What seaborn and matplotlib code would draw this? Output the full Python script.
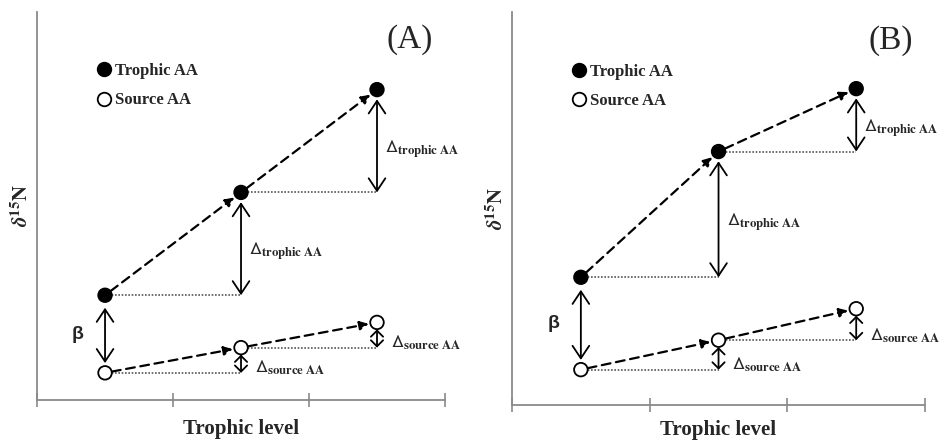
import numpy as np
import pandas as pd
import matplotlib
matplotlib.use("Agg")
import matplotlib.pyplot as plt
import seaborn as sns

# trophic levels (x) and schematic d15N values (y) per panel
levels = [0.5, 1.5, 2.5]
trophic_a = [2.7, 5.35, 8.0]
source_a = [0.7, 1.35, 2.0]
trophic_b = [3.25, 6.45, 8.05]
source_b = [0.9, 1.65, 2.45]
panel_tags = ["(A)", "(B)"]
kinds = ["Trophic AA", "Source AA"]

sns.set_style("white")
plt.rcParams["font.family"] = ["Liberation Serif", "DejaVu Sans"]
plt.rcParams["mathtext.fontset"] = "stix"

AX_COLOR = "#8a8a8a"


def draw_panel(ax, trophic, source, tag, xpad):
    df = pd.DataFrame({
        "level": levels * 2,
        "d15N": trophic + source,
        "kind": [kinds[0]] * 3 + [kinds[1]] * 3,
    })

    # dotted horizontal guides from each point to the next level
    for ys in (trophic, source):
        for i in range(2):
            ax.plot([levels[i], levels[i + 1]], [ys[i], ys[i]],
                    color="#555555", lw=1.2, ls=(0, (1, 1)), zorder=1)

    sns.scatterplot(data=df, x="level", y="d15N", hue="kind",
                    palette={kinds[0]: "black", kinds[1]: "white"},
                    edgecolor="black", linewidth=1.3, s=95, zorder=4, ax=ax)

    # dashed arrows joining consecutive points
    for ys in (trophic, source):
        for i in range(2):
            ax.annotate("", xy=(levels[i + 1], ys[i + 1]), xytext=(levels[i], ys[i]),
                        arrowprops=dict(arrowstyle="-|>", color="black", lw=1.6,
                                        ls=(0, (4, 2.5)), shrinkA=5, shrinkB=6,
                                        mutation_scale=13), zorder=3)

    dbl = dict(arrowstyle="<->,head_length=0.45,head_width=0.3", color="black",
               lw=1.3, mutation_scale=20)
    dbl_small = dict(arrowstyle="<->,head_length=0.4,head_width=0.4", color="black",
                     lw=1.3, mutation_scale=11)

    # beta: source -> trophic at the first level
    ax.annotate("", xy=(levels[0], trophic[0]), xytext=(levels[0], source[0]),
                arrowprops=dict(dbl, shrinkA=7, shrinkB=9), zorder=2)
    ax.text(levels[0] - 0.2, (trophic[0] + source[0]) / 2, "β",
            family="Liberation Sans", fontweight="bold", fontsize=14,
            ha="center", va="center")

    for i in range(2):
        x = levels[i + 1]
        ax.annotate("", xy=(x, trophic[i + 1]), xytext=(x, trophic[i]),
                    arrowprops=dict(dbl, shrinkA=0, shrinkB=7), zorder=2)
        ax.text(x + 0.06, (trophic[i] + trophic[i + 1]) / 2 - 0.2,
                r"$\mathsf{\Delta}_{\mathbf{trophic\ AA}}$", fontsize=13,
                ha="left", va="center")
        ax.annotate("", xy=(x, source[i + 1]), xytext=(x, source[i]),
                    arrowprops=dict(dbl_small, shrinkA=0, shrinkB=5), zorder=2)
        ax.text(x + 0.1, source[i] + 0.12,
                r"$\mathsf{\Delta}_{\mathbf{source\ AA}}$", fontsize=13,
                ha="left", va="center")

    sns.move_legend(ax, "upper left", bbox_to_anchor=(0.123, 0.89), frameon=False,
                    title=None, borderpad=0, handlelength=1.0, handletextpad=0.15,
                    labelspacing=0.8, prop={"weight": "bold", "size": 12})

    ax.text(0.97, 0.928, tag, transform=ax.transAxes, fontsize=24,
            ha="right", va="center")

    ax.set_xlim(0, 3)
    ax.set_ylim(0, 10)
    ax.set_xticks([0, 1, 2, 3])
    ax.set_xticklabels([])
    ax.set_yticks([])
    ax.tick_params(axis="x", bottom=True, direction="inout", length=10,
                   width=1.2, color=AX_COLOR)
    sns.despine(ax=ax)
    for side in ("left", "bottom"):
        ax.spines[side].set_color(AX_COLOR)
        ax.spines[side].set_linewidth(1.3)
    ax.set_xlabel("Trophic level", fontsize=15, fontweight="bold", labelpad=xpad)
    ax.set_ylabel(r"$\boldsymbol{\delta}^{\mathbf{15}}\mathbf{N}$", fontsize=15,
                  labelpad=3)


fig = plt.figure(figsize=(9.4, 4.4), dpi=100)
ax_a = fig.add_axes([0.0394, 0.0909, 0.434, 0.8818])
ax_b = fig.add_axes([0.5447, 0.0795, 0.4394, 0.8932])

draw_panel(ax_a, trophic_a, source_a, panel_tags[0], 5)
draw_panel(ax_b, trophic_b, source_b, panel_tags[1], 2)

fig.savefig("out.png", dpi=100)
plt.close(fig)
